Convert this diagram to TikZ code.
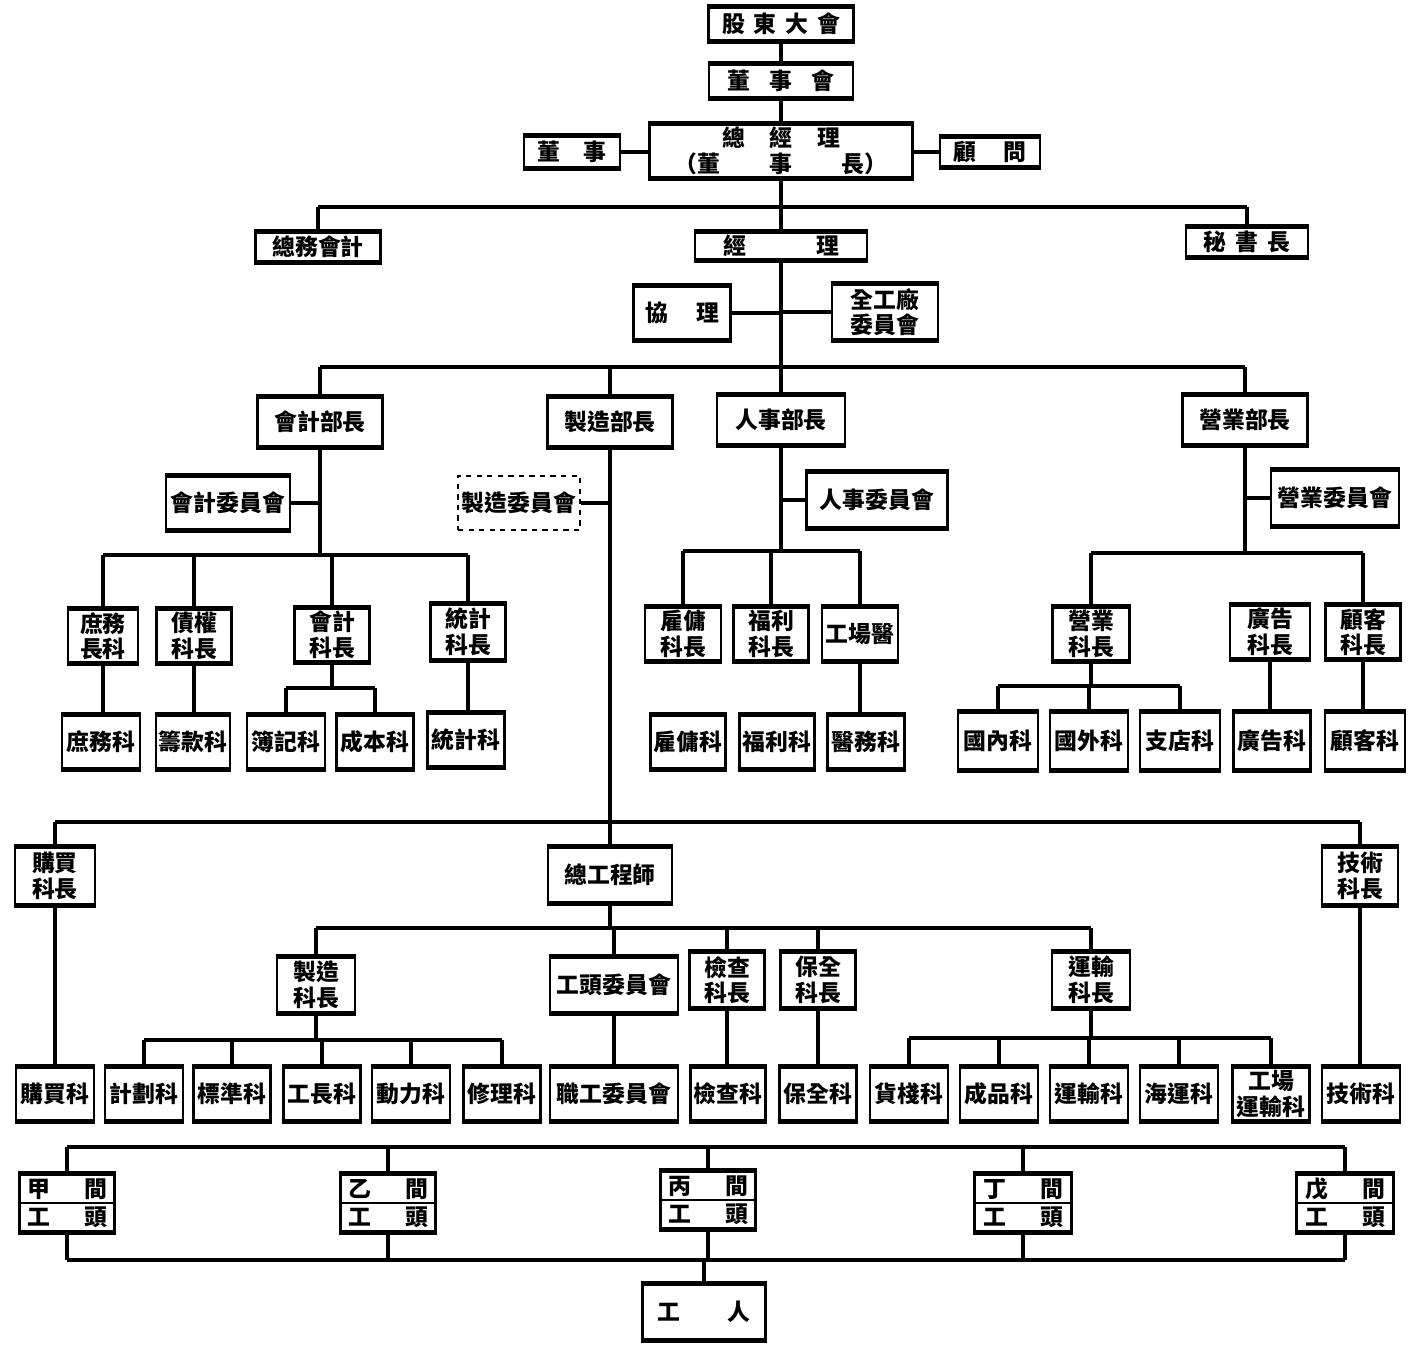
\documentclass[tikz,border=0pt]{standalone}
\usepackage{fontspec}
\setmainfont{Noto Sans CJK TC}

\tikzset{
    unit/.style={draw, line width=1.3pt, inner sep=1pt, align=center,
        font=\fontsize{13}{14.5}\selectfont\bfseries,
        append after command={
            (\tikzlastnode.north west) edge[line width=3pt] (\tikzlastnode.north east)
            (\tikzlastnode.south west) edge[line width=3pt] (\tikzlastnode.south east)}},
    draft/.style={draw, dashed, line width=0.7pt, inner sep=1pt,
        font=\fontsize{13}{14.5}\selectfont\bfseries},
    sz/.style 2 args={minimum width=#1*0.02cm, minimum height=#2*0.02cm},
    link/.style={line width=2.1pt},
    shopbox/.style={text width=1.6cm, align=left, font=\fontsize{13}{16}\selectfont\bfseries}
}

\begin{document}
\begin{tikzpicture}[x=0.02cm, y=-0.02cm]
    \useasboundingbox (0,0) rectangle (1411,1348);

    % top of the company
    \node[unit, sz={145}{32}] (agm) at (781,24) {股\hspace{5pt}東\hspace{5pt}大\hspace{5pt}會};
    \node[unit, sz={144}{32}] (board) at (781,81) {董\hspace{11pt}事\hspace{11pt}會};
    \node[unit, sz={263}{53}] (gm) at (781,151)
        {總\hspace{14pt}經\hspace{14pt}理\\（董\hspace{28pt}事\hspace{28pt}長）};
    \node[unit, sz={96}{30}] (director) at (572,152) {董\hspace{13pt}事};
    \node[unit, sz={100}{28}] (advisor) at (990,152) {顧\hspace{15pt}問};

    \node[unit, sz={125}{29}] (genacct) at (318,247) {總務會計};
    \node[unit, sz={172}{27}] (mgr) at (781,246) {經\hspace{40pt}理};
    \node[unit, sz={122}{28}] (secgen) at (1247,242) {秘\hspace{5pt}書\hspace{5pt}長};
    \node[unit, sz={97}{53}] (asstmgr) at (682,313) {協\hspace{16pt}理};
    \node[unit, sz={106}{55}] (plantcom) at (885,312) {全工廠\\委員會};

    % departments
    \node[unit, sz={125}{49}] (acctdept) at (320,422) {會計部長};
    \node[unit, sz={125}{49}] (mfgdept) at (610,422) {製造部長};
    \node[unit, sz={128}{48}] (persdept) at (781,420) {人事部長};
    \node[unit, sz={125}{49}] (salesdept) at (1245,420) {營業部長};

    \node[unit, sz={124}{53}] (acctcom) at (228,503) {會計委員會};
    \node[draft, sz={122}{54}] (mfgcom) at (519,503) {製造委員會};
    \node[unit, sz={141}{54}] (perscom) at (877,500) {人事委員會};
    \node[unit, sz={128}{55}] (salescom) at (1335,498) {營業委員會};

    % accounting
    \node[unit, sz={70}{53}] (gaffchief) at (103,636) {庶務\\長科};
    \node[unit, sz={75}{53}] (debtchief) at (194,636) {債權\\科長};
    \node[unit, sz={75}{53}] (ledgerchief) at (332,635) {會計\\科長};
    \node[unit, sz={75}{55}] (statchief) at (468,632) {統計\\科長};

    \node[unit, sz={78}{53}] (gaff) at (101,742) {庶務科};
    \node[unit, sz={74}{53}] (fund) at (193,742) {籌款科};
    \node[unit, sz={78}{53}] (book) at (286,742) {簿記科};
    \node[unit, sz={77}{53}] (cost) at (375,742) {成本科};
    \node[unit, sz={77}{53}] (stat) at (466,740) {統計科};

    % personnel
    \node[unit, sz={76}{52}] (hirechief) at (683,634) {雇傭\\科長};
    \node[unit, sz={75}{52}] (welfchief) at (771,634) {福利\\科長};
    \node[unit, sz={76}{52}] (doctor) at (860,634) {工場醫};

    \node[unit, sz={75}{53}] (hire) at (688,742) {雇傭科};
    \node[unit, sz={75}{53}] (welf) at (777,742) {福利科};
    \node[unit, sz={77}{53}] (medic) at (866,742) {醫務科};

    % sales
    \node[unit, sz={77}{52}] (salechief) at (1091,634) {營業\\科長};
    \node[unit, sz={80}{52}] (adchief) at (1270,632) {廣告\\科長};
    \node[unit, sz={75}{52}] (custchief) at (1363,632) {顧客\\科長};

    \node[unit, sz={80}{56}] (domestic) at (998,741) {國內科};
    \node[unit, sz={78}{56}] (foreign) at (1089,741) {國外科};
    \node[unit, sz={80}{56}] (branch) at (1180,741) {支店科};
    \node[unit, sz={77}{56}] (ad) at (1272,741) {廣告科};
    \node[unit, sz={80}{56}] (cust) at (1365,741) {顧客科};

    % manufacturing
    \node[unit, sz={80}{57}] (buychief) at (55,876) {購買\\科長};
    \node[unit, sz={124}{54}] (chiefeng) at (610,875) {總工程師};
    \node[unit, sz={76}{57}] (techchief) at (1360,876) {技術\\科長};

    \node[unit, sz={78}{54}] (prodchief) at (316,985) {製造\\科長};
    \node[unit, sz={128}{54}] (foremencom) at (614,985) {工頭委員會};
    \node[unit, sz={75}{55}] (inspchief) at (727,980) {檢查\\科長};
    \node[unit, sz={75}{55}] (maintchief) at (818,980) {保全\\科長};
    \node[unit, sz={78}{55}] (transchief) at (1091,980) {運輸\\科長};

    \node[unit, sz={78}{52}] (buy) at (55,1094) {購買科};
    \node[unit, sz={78}{52}] (plan) at (144,1094) {計劃科};
    \node[unit, sz={77}{52}] (std) at (232,1094) {標準科};
    \node[unit, sz={77}{52}] (foremen) at (322,1094) {工長科};
    \node[unit, sz={78}{52}] (power) at (411,1094) {動力科};
    \node[unit, sz={77}{52}] (repair) at (502,1094) {修理科};
    \node[unit, sz={128}{52}] (staffcom) at (614,1094) {職工委員會};
    \node[unit, sz={75}{52}] (insp) at (728,1094) {檢查科};
    \node[unit, sz={77}{52}] (maint) at (818,1094) {保全科};
    \node[unit, sz={78}{52}] (store) at (909,1094) {貨棧科};
    \node[unit, sz={78}{52}] (goods) at (999,1094) {成品科};
    \node[unit, sz={78}{52}] (trans) at (1089,1094) {運輸科};
    \node[unit, sz={78}{52}] (marine) at (1179,1094) {海運科};
    \node[unit, sz={77}{52}] (planttrans) at (1271,1094) {工場\\運輸科};
    \node[unit, sz={78}{52}] (tech) at (1361,1094) {技術科};

    % shops
    \node[unit, shopbox, sz={95}{57}] (jia) at (67,1203) {甲\hfill 間\\工\hfill 頭};
    \node[unit, shopbox, sz={95}{57}] (yi) at (388,1203) {乙\hfill 間\\工\hfill 頭};
    \node[unit, shopbox, sz={95}{57}] (bing) at (708,1200) {丙\hfill 間\\工\hfill 頭};
    \node[unit, shopbox, sz={97}{57}] (ding) at (1023,1203) {丁\hfill 間\\工\hfill 頭};
    \node[unit, shopbox, sz={97}{57}] (wu) at (1345,1203) {戊\hfill 間\\工\hfill 頭};
    \foreach \n in {jia,yi,bing,ding,wu}
        \draw[line width=1.2pt] (\n.west) -- (\n.east);
    \node[unit, sz={123}{55}] (workers) at (704,1312) {工\hspace{27pt}人};

    % bars
    \coordinate (b1) at (0,207);
    \coordinate (b2) at (0,367);
    \coordinate (b3) at (0,555);
    \coordinate (b4) at (0,551);
    \coordinate (b5) at (0,553);
    \coordinate (b6) at (0,688);
    \coordinate (b7) at (0,686);
    \coordinate (b8) at (0,822);
    \coordinate (b9) at (0,928);
    \coordinate (b10) at (0,1040);
    \coordinate (b11) at (0,1038);
    \coordinate (b12) at (0,1147);
    \coordinate (b13) at (0,1260);

    \draw[link] (agm) -- (board);
    \draw[link] (board) -- (gm);
    \draw[link] (director.east) -- (director.east -| gm.west);
    \draw[link] (advisor.west) -- (advisor.west -| gm.east);

    \draw[link] (gm.south) -- (mgr.north);
    \draw[link] (genacct.north |- b1) -- (secgen.north |- b1);
    \foreach \n in {genacct,secgen}
        \draw[link] (\n.north) -- (\n.north |- b1);

    \draw[link] (mgr.south) -- (persdept.north);
    \draw[link] (asstmgr.east) -- (asstmgr.east -| mgr.south);
    \draw[link] (plantcom.west) -- (plantcom.west -| mgr.south);
    \draw[link] (acctdept.north |- b2) -- (salesdept.north |- b2);
    \foreach \n in {acctdept,mfgdept,salesdept}
        \draw[link] (\n.north) -- (\n.north |- b2);

    % accounting
    \draw[link] (acctdept.south) -- (acctdept.south |- b3);
    \draw[link] (acctcom.east) -- (acctcom.east -| acctdept.south);
    \draw[link] (gaffchief.north |- b3) -- (statchief.north |- b3);
    \foreach \n in {gaffchief,debtchief,ledgerchief,statchief}
        \draw[link] (\n.north) -- (\n.north |- b3);
    \draw[link] (gaffchief.south) -- (gaffchief.south |- gaff.north);
    \draw[link] (debtchief.south) -- (debtchief.south |- fund.north);
    \draw[link] (statchief.south) -- (statchief.south |- stat.north);
    \draw[link] (ledgerchief.south) -- (ledgerchief.south |- b6);
    \draw[link] (book.north |- b6) -- (cost.north |- b6);
    \foreach \n in {book,cost}
        \draw[link] (\n.north) -- (\n.north |- b6);

    % manufacturing spine
    \draw[link] (mfgdept.south) -- (chiefeng.north);
    \draw[link] (mfgcom.east) -- (mfgcom.east -| mfgdept.south);

    % personnel
    \draw[link] (persdept.south) -- (persdept.south |- b4);
    \draw[link] (perscom.west) -- (perscom.west -| persdept.south);
    \draw[link] (hirechief.north |- b4) -- (doctor.north |- b4);
    \foreach \n in {hirechief,welfchief,doctor}
        \draw[link] (\n.north) -- (\n.north |- b4);
    \draw[link] (doctor.south) -- (doctor.south |- medic.north);

    % sales
    \draw[link] (salesdept.south) -- (salesdept.south |- b5);
    \draw[link] (salescom.west) -- (salescom.west -| salesdept.south);
    \draw[link] (salechief.north |- b5) -- (custchief.north |- b5);
    \foreach \n in {salechief,custchief}
        \draw[link] (\n.north) -- (\n.north |- b5);
    \draw[link] (salechief.south) -- (salechief.south |- b7);
    \draw[link] (domestic.north |- b7) -- (branch.north |- b7);
    \foreach \n in {domestic,foreign,branch}
        \draw[link] (\n.north) -- (\n.north |- b7);
    \draw[link] (adchief.south) -- (adchief.south |- ad.north);
    \draw[link] (custchief.south) -- (custchief.south |- cust.north);

    % works
    \draw[link] (buychief.north |- b8) -- (techchief.north |- b8);
    \foreach \n in {buychief,techchief}
        \draw[link] (\n.north) -- (\n.north |- b8);
    \draw[link] (buychief.south) -- (buy.north);
    \draw[link] (techchief.south) -- (techchief.south |- tech.north);

    \draw[link] (chiefeng.south) -- (chiefeng.south |- b9);
    \draw[link] (prodchief.north |- b9) -- (transchief.north |- b9);
    \foreach \n in {prodchief,foremencom,inspchief,maintchief,transchief}
        \draw[link] (\n.north) -- (\n.north |- b9);
    \draw[link] (foremencom.south) -- (staffcom.north);
    \draw[link] (inspchief.south) -- (inspchief.south |- insp.north);
    \draw[link] (maintchief.south) -- (maint.north);

    \draw[link] (prodchief.south) -- (prodchief.south |- b10);
    \draw[link] (plan.north |- b10) -- (repair.north |- b10);
    \foreach \n in {plan,std,foremen,power,repair}
        \draw[link] (\n.north) -- (\n.north |- b10);

    \draw[link] (transchief.south) -- (transchief.south |- b11);
    \draw[link] (store.north |- b11) -- (planttrans.north |- b11);
    \foreach \n in {store,goods,trans,marine,planttrans}
        \draw[link] (\n.north) -- (\n.north |- b11);

    % shops and workers
    \draw[link] (jia.north |- b12) -- (wu.north |- b12);
    \draw[link] (jia.south |- b13) -- (wu.south |- b13);
    \foreach \n in {jia,yi,bing,ding,wu} {
        \draw[link] (\n.north) -- (\n.north |- b12);
        \draw[link] (\n.south) -- (\n.south |- b13);
    }
    \draw[link] (workers.north) -- (workers.north |- b13);
\end{tikzpicture}
\end{document}
